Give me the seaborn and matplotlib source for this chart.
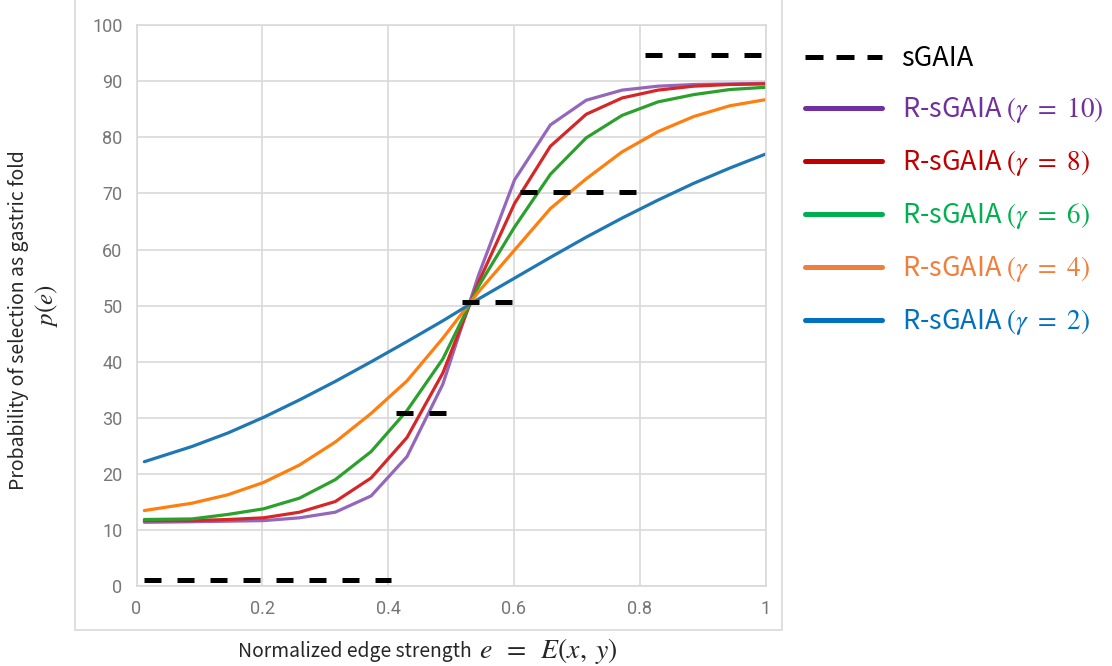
import numpy as np
import pandas as pd
import matplotlib
matplotlib.use('Agg')
import matplotlib.pyplot as plt
from matplotlib.lines import Line2D
from matplotlib.patches import Rectangle
import seaborn as sns

# edge strength samples and the R-sGAIA curves
edge = [0.0125, 0.088, 0.145, 0.202, 0.259, 0.316, 0.373, 0.43, 0.487,
        0.544, 0.601, 0.658, 0.715, 0.772, 0.829, 0.886, 0.943, 1.0]
p_g10 = [11.4, 11.5, 11.6, 11.7, 12.2, 13.2, 16.1, 23.1, 36.0,
         55.5, 72.4, 82.2, 86.6, 88.4, 89.1, 89.4, 89.5, 89.6]
p_g8 = [11.7, 11.7, 11.9, 12.2, 13.2, 15.1, 19.3, 26.5, 38.0,
        54.2, 68.2, 78.4, 84.1, 87.0, 88.4, 89.1, 89.4, 89.5]
p_g6 = [11.9, 12.0, 12.8, 13.8, 15.7, 19.0, 24.0, 31.3, 40.5,
        53.5, 64.0, 73.4, 79.9, 83.9, 86.3, 87.6, 88.5, 88.9]
p_g4 = [13.5, 14.8, 16.3, 18.5, 21.6, 25.7, 30.8, 36.6, 44.2,
        52.5, 59.9, 67.3, 72.6, 77.4, 81.0, 83.7, 85.6, 86.7]
p_g2 = [22.2, 24.9, 27.3, 30.1, 33.2, 36.5, 40.0, 43.6, 47.3,
        51.2, 54.9, 58.6, 62.2, 65.6, 68.8, 71.8, 74.5, 77.0]

# sGAIA step levels
sgaia_start = [0.012, 0.412, 0.517, 0.609, 0.808]
sgaia_end = [0.405, 0.493, 0.598, 0.796, 0.996]
sgaia_level = [1.2, 30.8, 50.6, 70.3, 94.7]

series = ['10', '8', '6', '4', '2']
values = [p_g10, p_g8, p_g6, p_g4, p_g2]
line_colors = ['#9467bd', '#d62728', '#2ca02c', '#ff7f0e', '#1f77b4']
legend_colors = ['#7030A0', '#C00000', '#00B050', '#F07F3C', '#0070C0']

df = pd.concat([pd.DataFrame({'e': edge, 'p': v, 'gamma': g})
                for g, v in zip(series, values)])

sns.set_style('white')
plt.rcParams['font.family'] = ['Noto Sans CJK JP', 'DejaVu Sans']
plt.rcParams['mathtext.fontset'] = 'stix'

fig = plt.figure(figsize=(11.12, 6.66), dpi=100)
ax = fig.add_axes([136.5 / 1112, 79.7 / 666, 629 / 1112, 561.3 / 666])

sns.lineplot(data=df, x='e', y='p', hue='gamma', hue_order=series,
             palette=dict(zip(series, line_colors)), linewidth=2.3,
             errorbar=None, legend=False, ax=ax)
ax.hlines(sgaia_level, sgaia_start, sgaia_end, colors='black', linewidth=3.6,
          linestyles=[(0, (3.4, 3.2))])

ax.set_xlim(0, 1)
ax.set_ylim(0, 100)
ax.set_xticks([0, 0.2, 0.4, 0.6, 0.8, 1])
ax.set_xticklabels(['0', '0.2', '0.4', '0.6', '0.8', '1'])
ax.set_yticks(range(0, 101, 10))
ax.grid(True, color='#D9D9D9', linewidth=1.2)
for s in ax.spines.values():
    s.set_color('#D9D9D9')
    s.set_linewidth(1.2)
ax.tick_params(length=0, labelsize=13, labelcolor='#767676', pad=10)
for t in ax.get_xticklabels() + ax.get_yticklabels():
    t.set_family(['Roboto', 'DejaVu Sans'])
ax.set_xlabel('')
ax.set_ylabel('')

# axis titles: text part and math part drawn separately to match sizes
fig.text(472 / 1112, 1 - 652 / 666, 'Normalized edge strength',
         ha='right', va='center', fontsize=13.9)
fig.text(479 / 1112, 1 - 651 / 666, r'$e\;\;=\;\;E(x,\;y)$',
         ha='left', va='center', fontsize=20)
fig.text(19 / 1112, 1 - 320 / 666, 'Probability of selection as gastric fold',
         ha='center', va='center', rotation=90, fontsize=14)
fig.text(46 / 1112, 1 - 305 / 666, r'$p(e)$',
         ha='center', va='center', rotation=90, fontsize=18)

# chart frame
fig.patches.append(Rectangle((75 / 1112, 36 / 666), 707 / 1112, 631 / 666,
                             transform=fig.transFigure, fill=False,
                             edgecolor='#D9D9D9', linewidth=1.2))

handles = [Line2D([], [], color='black', linewidth=3.6, linestyle=(0, (3.6, 2.6)))]
labels = ['sGAIA']
for g, c in zip(series, legend_colors):
    handles.append(Line2D([], [], color=c, linewidth=3.6))
    labels.append('R-sGAIA $(\\gamma\\ =\\ %s)$' % g)
fig.legend(handles, labels, loc='upper left',
           bbox_to_anchor=(805 / 1112, 1 - 45 / 666),
           frameon=False, fontsize=19.5, handlelength=2.85, handletextpad=0.72,
           labelspacing=0.85, borderpad=0, borderaxespad=0,
           labelcolor=['black'] + legend_colors)

fig.savefig('out.png', dpi=100)
